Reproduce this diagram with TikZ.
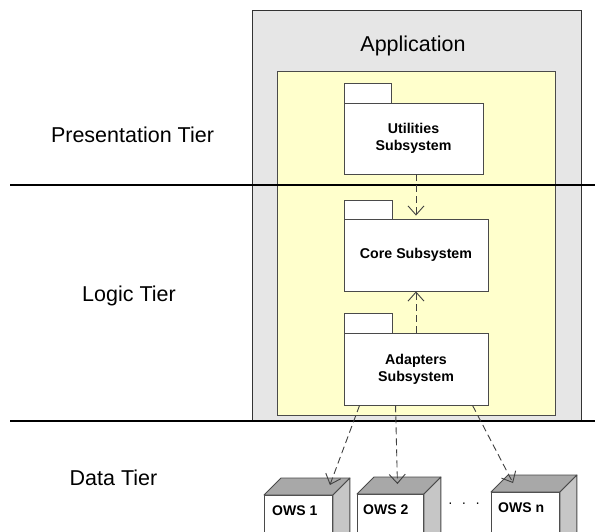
\documentclass[tikz,border=0pt]{standalone}
\usepackage{fontspec}
\setmainfont{Liberation Sans}
\usetikzlibrary{arrows.meta,calc}

\definecolor{appgrey}{HTML}{E6E6E6}
\definecolor{appedge}{HTML}{333333}
\definecolor{paleyellow}{HTML}{FFFFCC}
\definecolor{pkgedge}{HTML}{4A4A4A}
\definecolor{cubetop}{HTML}{A8A8A8}
\definecolor{cubeside}{HTML}{C6C6C6}
\definecolor{depline}{HTML}{404040}

\tikzset{
  tierlabel/.style={font=\fontsize{21.5}{24}\selectfont, inner sep=0pt},
  tierline/.style={line width=2pt, black},
  pkgbody/.style={draw=pkgedge, fill=white, line width=0.9pt, inner sep=0pt,
    align=center, font=\bfseries\fontsize{14.2}{17}\selectfont},
  pkgtab/.style={draw=pkgedge, fill=white, line width=0.9pt},
  dep/.style={draw=depline, line width=0.9pt, dash pattern=on 7pt off 4pt,
    -{Straight Barb[length=9pt,width=16pt,line width=0.9pt]}},
  cubefront/.style={draw=pkgedge, fill=white, line width=0.9pt, inner sep=0pt,
    anchor=north west, minimum height=60pt},
  cubeface/.style={draw=pkgedge, line width=0.9pt, line join=round},
  cubelabel/.style={font=\bfseries\fontsize{14}{17}\selectfont, inner sep=0pt, anchor=base west},
}

\begin{document}
\begin{tikzpicture}[x=1pt,y=-1pt]
  \useasboundingbox (0,0) rectangle (595,531);
  \clip (0,0) rectangle (595,531);

  % application frame and its inner area
  \node[draw=appedge, fill=appgrey, line width=1pt, minimum width=329pt, minimum height=411pt, inner sep=0pt]
    (app) at (416.5,215.5) {};
  \node[tierlabel, anchor=base] (apptitle) at (413,51) {Application};
  \node[draw=pkgedge, fill=paleyellow, line width=0.8pt, minimum width=278pt, minimum height=344pt, inner sep=0pt]
    (inner) at (416,243) {};

  % tier separators and labels
  \draw[tierline] (10,185) -- (595,185);
  \draw[tierline] (10,421) -- (595,421);
  \node[tierlabel, anchor=base] (pres) at (132.5,142) {Presentation Tier};
  \node[tierlabel, anchor=base] (logic) at (129,301) {Logic Tier};
  \node[tierlabel, anchor=base] (data) at (113.5,485) {Data Tier};

  % packages
  \draw[pkgtab] (344,83) rectangle (391,103);
  \node[pkgbody, minimum width=139pt, minimum height=71pt] (util) at (413.5,138.5) {Utilities\\Subsystem};

  \draw[pkgtab] (344,200) rectangle (392,219);
  \node[pkgbody, minimum width=144pt, minimum height=72pt] (core) at (416,255) {Core Subsystem};

  \draw[pkgtab] (344,313) rectangle (392,333);
  \node[pkgbody, minimum width=144pt, minimum height=72pt] (adapt) at (416,369) {Adapters\\Subsystem};

  % data stores drawn as cubes
  \foreach \n/\x/\y/\w in {1/264/495/68, 2/357/494/66, 3/491/492/68}{
    \node[cubefront, minimum width=\w pt] (ows\n) at (\x,\y) {};
    \draw[cubeface, fill=cubetop] (ows\n.north west) -- ++(17pt,17pt) -- ($(ows\n.north east)+(17pt,17pt)$)
      -- (ows\n.north east) -- cycle;
    \draw[cubeface, fill=cubeside] (ows\n.north east) -- ++(17pt,17pt) -- ($(ows\n.south east)+(17pt,17pt)$)
      -- (ows\n.south east) -- cycle;
  }
  \node[cubelabel] (lab1) at (272,515) {OWS 1};
  \node[cubelabel] (lab2) at (363,514) {OWS 2};
  \node[cubelabel] (lab3) at (498,512) {OWS n};
  \node[font=\fontsize{14}{17}\selectfont, inner sep=0pt] (dots) at (464,505) {·\hspace{9pt}·\hspace{9pt}·};

  % dependency connectors
  \coordinate (in1) at ($(ows1.north east)+(-3pt,10pt)$);
  \coordinate (in2) at ($(ows2.north)+(7pt,10pt)$);
  \coordinate (in3) at ($(ows3.north west)+(22pt,9pt)$);
  \coordinate (out1) at ($(adapt.south west)+(16pt,0)$);
  \coordinate (out2) at ($(adapt.south west)+(52pt,0)$);
  \coordinate (out3) at ($(adapt.south west)+(129pt,0)$);

  \draw[dep, shorten >=3pt] (util.south -| core.north) -- (core.north);
  \draw[dep] (adapt.north) -- (core.south);
  \draw[dep] (out1) -- (in1);
  \draw[dep] (out2) -- (in2);
  \draw[dep] (out3) -- (in3);
\end{tikzpicture}
\end{document}
